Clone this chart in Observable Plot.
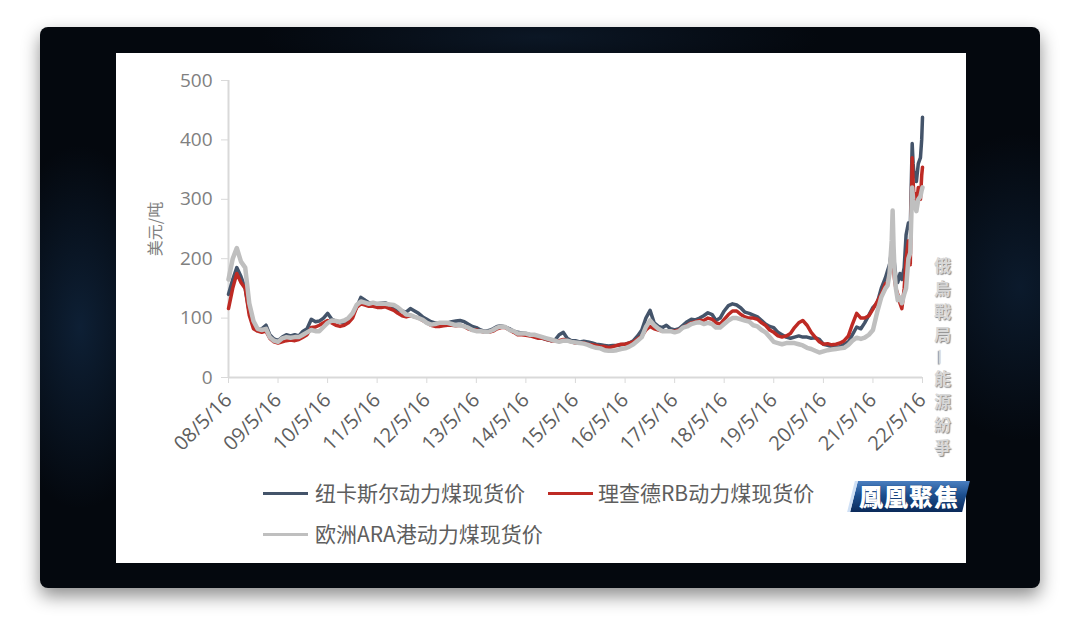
<!DOCTYPE html>
<html><head><meta charset="utf-8">
<script src="https://cdn.jsdelivr.net/npm/d3@7"></script>
<script src="https://cdn.jsdelivr.net/npm/@observablehq/plot@0.6"></script>
<style>
html,body{margin:0;padding:0;background:#fff;width:1080px;height:643px;overflow:hidden;font-family:"Noto Sans CJK SC","Open Sans",sans-serif;}
#frame{position:absolute;left:40px;top:27px;width:1000px;height:561px;border-radius:8px;
 background:
  radial-gradient(ellipse 120px 260px at 40px 300px, rgba(25,60,100,0.45), rgba(0,0,0,0) 70%),
  radial-gradient(ellipse 160px 220px at 980px 260px, rgba(25,60,100,0.35), rgba(0,0,0,0) 70%),
  radial-gradient(ellipse 400px 60px at 500px 10px, rgba(25,50,80,0.35), rgba(0,0,0,0) 70%),
  #04080e;
 box-shadow:0 8px 18px rgba(0,0,0,0.45);}
#panel{position:absolute;left:116px;top:53px;width:850px;height:510px;background:#fff;}
#chart{position:absolute;left:0;top:0;}
.lg{position:absolute;font-size:21px;color:#5e5e5e;line-height:21px;white-space:nowrap;}
.sw{position:absolute;height:3px;width:45px;}
#vt{position:absolute;left:930px;top:257px;writing-mode:vertical-rl;font-size:17px;letter-spacing:6px;font-weight:bold;color:#d8d8d8;text-shadow:1px 1px 1px #8a8a8a;font-family:"Noto Sans CJK TC",sans-serif;}
#logo{position:absolute;left:851px;top:481px;width:112px;height:31px;transform:skewX(-14deg);
 background:linear-gradient(180deg,#4a7fc0 0%,#1d4f8f 45%,#0b2a5a 100%);border-left:3px solid #cfe0f5;}
#logoText{position:absolute;left:853px;top:479px;width:112px;text-align:center;font-size:24px;font-weight:900;color:#fff;letter-spacing:1px;font-family:"Noto Sans CJK TC",sans-serif;line-height:34px;text-shadow:0 0 1px #0b2a5a;}
</style></head>
<body>
<div id="frame"></div>
<div id="panel">
  <div id="chart"></div>
  <div class="sw" style="left:147px;top:439px;background:#44546A"></div>
  <div class="lg" style="left:199px;top:429px">纽卡斯尔动力煤现货价</div>
  <div class="sw" style="left:432px;top:439px;background:#BE2A24"></div>
  <div class="lg" style="left:482px;top:429px">理查德RB动力煤现货价</div>
  <div class="sw" style="left:147px;top:480px;background:#BFBFBF"></div>
  <div class="lg" style="left:199px;top:470px">欧洲ARA港动力煤现货价</div>
</div>
<div id="vt">俄烏戰局—能源紛爭</div>
<div id="logo"></div>
<div id="logoText">鳳凰聚焦</div>
<script>
// ---- data ----
const seriesNames = ["纽卡斯尔动力煤现货价", "理查德RB动力煤现货价", "欧洲ARA港动力煤现货价"];
const seriesColors = ["#44546A", "#BE2A24", "#BFBFBF"];
const yTicks = [0, 100, 200, 300, 400, 500];
const xTickDates = ["2008-05-16","2009-05-16","2010-05-16","2011-05-16","2012-05-16","2013-05-16","2014-05-16","2015-05-16","2016-05-16","2017-05-16","2018-05-16","2019-05-16","2020-05-16","2021-05-16","2022-05-16"];
const xTickLabels = ["08/5/16","09/5/16","10/5/16","11/5/16","12/5/16","13/5/16","14/5/16","15/5/16","16/5/16","17/5/16","18/5/16","19/5/16","20/5/16","21/5/16","22/5/16"];

// monthly values, May 2008 .. Aug 2021 (one per month, mid-month)
const monthStart = "2008-05-16";
const newcastle = [
  140,165,185,170,150,110,88,80,
  82,88,72,65,62,68,72,70,72,70,78,82,
  98,94,95,100,108,98,95,93,92,97,105,118,
  135,130,126,125,124,125,126,122,118,113,112,110,
  116,112,108,102,98,94,92,91,90,92,94,95,
  96,94,90,86,84,80,78,79,82,86,87,85,
  82,78,76,75,74,72,71,70,66,64,62,63,
  72,76,66,62,62,60,61,60,58,56,55,54,
  53,54,54,55,56,58,62,70,80,100,113,92,
  86,84,88,82,80,82,88,94,98,97,100,104,
  109,106,96,100,112,121,124,122,117,110,108,105,
  102,96,90,86,84,76,72,68,66,68,70,68,
  68,66,67,64,56,54,52,51,52,56,60,72,
  85,82,92,105,118,125,150,168
];
const richardsBay = [
  116,150,175,160,150,105,82,78,
  76,78,66,60,58,60,62,63,62,64,68,72,
  84,85,88,92,96,92,88,86,88,92,100,118,
  124,122,120,120,118,118,119,116,113,108,104,102,
  104,102,100,96,92,88,86,86,87,88,88,87,
  88,86,82,80,80,78,76,76,78,82,84,84,
  80,76,72,72,71,70,68,66,66,64,62,62,
  62,64,62,60,58,58,58,56,55,54,52,52,
  50,52,54,56,56,58,60,65,70,80,86,82,
  80,78,78,78,78,80,84,88,92,94,96,96,
  100,98,92,90,98,106,112,112,106,102,100,100,
  98,92,88,80,76,70,68,70,74,84,92,96,
  88,76,68,60,56,57,55,56,58,62,70,90,
  108,100,100,104,115,128,140,158
];
const ara = [
  165,200,218,195,185,125,95,82,
  80,82,68,62,60,66,68,67,68,68,72,76,
  80,78,78,85,92,96,95,94,96,100,108,122,
  128,126,124,126,124,124,124,123,122,118,112,106,
  105,102,100,97,92,89,90,92,92,92,90,88,
  88,86,84,80,78,78,77,77,80,84,86,85,
  80,78,74,74,74,72,72,70,68,66,64,62,
  60,62,62,60,59,58,57,55,52,50,49,46,
  45,45,46,48,49,52,56,62,68,85,96,88,
  82,78,78,78,76,78,84,86,90,92,93,90,
  92,90,84,84,90,96,100,100,98,96,94,88,
  86,80,76,68,60,58,56,58,58,58,56,54,
  50,48,45,42,44,46,47,48,49,50,55,62,
  67,65,67,72,80,110,135,150
];

// finer points for the volatile tail, Sep 2021 .. May 2022
const tailDates = ["2021-09-01","2021-09-15","2021-10-01","2021-10-08","2021-10-15","2021-10-22","2021-11-01","2021-11-15","2021-12-01","2021-12-15","2022-01-01","2022-01-15","2022-02-01","2022-02-15","2022-03-01","2022-03-08","2022-03-15","2022-03-22","2022-04-01","2022-04-15","2022-05-01","2022-05-10","2022-05-16"];
const newcastleTail = [180,190,215,225,205,190,170,160,175,165,185,240,260,250,394,360,340,345,330,360,370,400,438];
const richardsBayTail = [160,175,200,210,185,165,150,140,125,116,150,200,230,190,370,330,300,310,290,320,300,340,354];
const araTail = [155,175,230,281,220,180,150,130,135,125,140,150,200,210,320,300,290,290,280,300,305,315,320];

// ---- build table ----
const start = new Date(monthStart);
const rows = [];
[newcastle, richardsBay, ara].forEach((vals, s) => {
  vals.forEach((v, i) => rows.push({series: seriesNames[s], date: d3.utcMonth.offset(start, i), value: v}));
});
[newcastleTail, richardsBayTail, araTail].forEach((vals, s) => {
  vals.forEach((v, i) => rows.push({series: seriesNames[s], date: new Date(tailDates[i]), value: v}));
});

const tickDates = xTickDates.map(d => new Date(d));
const labelFor = d => xTickLabels[d.getUTCFullYear() - 2008];

const chart = Plot.plot({
  width: 830,
  height: 420,
  marginLeft: 112,
  marginRight: 24,
  marginTop: 27,
  marginBottom: 96,
  style: {fontFamily: '"Open Sans","Noto Sans CJK SC",sans-serif', background: "transparent", color: "#808080", overflow: "visible"},
  x: {type: "utc", domain: [tickDates[0], tickDates[tickDates.length - 1]]},
  y: {domain: [0, 500]},
  marks: [
    Plot.ruleY([0], {stroke: "#d9d9d9", strokeWidth: 2}),
    Plot.ruleX([tickDates[0]], {stroke: "#d9d9d9", strokeWidth: 2}),
    Plot.axisY({ticks: yTicks, tickSize: 7, tickPadding: 9, stroke: "#d9d9d9", fill: "#808080", fontSize: 19, label: null}),
    Plot.axisX({ticks: tickDates, tickFormat: labelFor, tickSize: 6, tickPadding: 13, tickRotate: -45, stroke: "#d9d9d9", fill: "#5e5e5e", fontSize: 20, label: null}),
    Plot.text(["美元/吨"], {frameAnchor: "left", textAnchor: "middle", dx: -73, rotate: -90, fontSize: 16, fill: "#808080", fontFamily: '"Noto Sans CJK SC",sans-serif'}),
    Plot.line(rows.filter(r => r.series === seriesNames[0]), {x: "date", y: "value", stroke: seriesColors[0], strokeWidth: 3.5, strokeLinejoin: "round"}),
    Plot.line(rows.filter(r => r.series === seriesNames[1]), {x: "date", y: "value", stroke: seriesColors[1], strokeWidth: 3.5, strokeLinejoin: "round"}),
    Plot.line(rows.filter(r => r.series === seriesNames[2]), {x: "date", y: "value", stroke: seriesColors[2], strokeWidth: 4.5, strokeLinejoin: "round"})
  ]
});
document.getElementById("chart").appendChild(chart);
</script>
</body></html>
